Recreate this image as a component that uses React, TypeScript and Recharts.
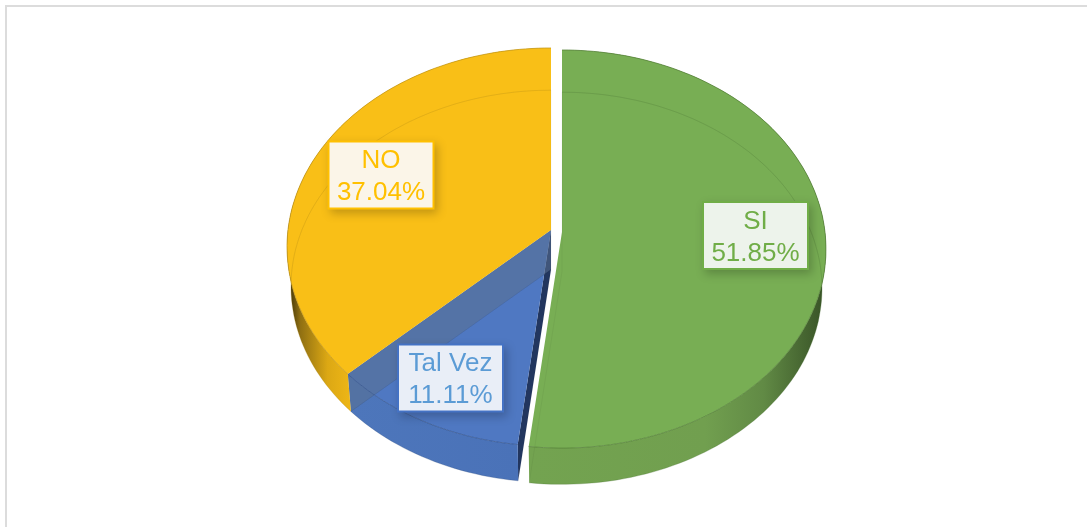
import { PieChart, Pie } from 'recharts';

const categories = ['SI', 'Tal Vez', 'NO'];
const shares = [51.85, 11.11, 37.04];

const TOP_COLORS: Record<string, string> = { SI: '#78ae54', 'Tal Vez': '#4f78c2', NO: '#f9bf17' };
const RIM_COLORS: Record<string, string> = { SI: '#55803a', 'Tal Vez': '#35568f', NO: '#c2951a' };
const TEXT_COLORS: Record<string, string> = { SI: '#70ad47', 'Tal Vez': '#5b9bd5', NO: '#ffc000' };
const BOX_BORDERS: Record<string, string> = { SI: '#70ad47', 'Tal Vez': '#4472c4', NO: '#ffc000' };
const BOX_FILLS: Record<string, string> = { SI: '#edf3eb', 'Tal Vez': '#e9eef7', NO: '#fbf5e8' };
const WALL_STOPS: Record<string, [number, string][]> = {
  SI: [[0, '#73a350'], [0.6, '#719f4f'], [0.8, '#618a45'], [1, '#3a5528']],
  'Tal Vez': [[0, '#4d76bb'], [1, '#4a72b8']],
  NO: [[0, '#4d3d0a'], [0.15, '#8f6f12'], [0.6, '#dca814'], [1, '#efb716']],
};
// label box centres, in page pixels
const LABEL_POS: Record<string, [number, number]> = { SI: [755.5, 235.5], 'Tal Vez': [450.5, 378], NO: [381, 175] };
// pulled out slice
const EXPLODE: Record<string, [number, number]> = { SI: [11, 2], 'Tal Vez': [0, 0], NO: [0, 0] };

const data = categories.map((name, i) => ({ name, value: shares[i] }));

// perspective of the pie plane, front edge gets nearer to the camera
const K = 0.0855;
const SX = 263 / 264;
const SY = 197.6 / 264;
const BASE_SCALE = 0.985;
const BASE_DROP = 39.5;
const RAD = Math.PI / 180;

type Pt = [number, number];

function flat(cx: number, cy: number, r: number, a: number): Pt {
  const dx = r * Math.cos(a * RAD);
  const dy = -r * Math.sin(a * RAD);
  const w = 1 - (K * dy) / r;
  return [cx + (SX * dx) / w, cy + (SY * dy) / w];
}

function lowered(p: Pt, cx: number, cy: number): Pt {
  return [cx + BASE_SCALE * (p[0] - cx), cy + BASE_SCALE * (p[1] - cy) + BASE_DROP];
}

function arc(cx: number, cy: number, r: number, a0: number, a1: number): Pt[] {
  const n = Math.max(2, Math.ceil(Math.abs(a1 - a0) / 1.5));
  const out: Pt[] = [];
  for (let i = 0; i <= n; i++) out.push(flat(cx, cy, r, a0 + ((a1 - a0) * i) / n));
  return out;
}

const toPath = (pts: Pt[], close = true) =>
  'M' + pts.map((p) => `${p[0].toFixed(1)},${p[1].toFixed(1)}`).join('L') + (close ? 'Z' : '');

function Slice3D(props: any) {
  const { cx, cy, outerRadius, startAngle, endAngle } = props;
  const name: string = props.payload?.name ?? props.name;
  const [ox, oy] = EXPLODE[name];
  const x = cx + ox;
  const y = cy + oy;
  const rim = arc(x, y, outerRadius, startAngle, endAngle);
  const baseRim = rim.map((p) => lowered(p, x, y));
  const apex: Pt = [x, y];
  const baseApex = lowered(apex, x, y);
  const gradId = `wall-${name.replace(' ', '')}`;
  const isBlue = name === 'Tal Vez';
  const gradX: Record<string, [number, number]> = { SI: [531, 822], 'Tal Vez': [351, 518], NO: [291, 352] };
  return (
    <g>
      <defs>
        <linearGradient id={gradId} gradientUnits="userSpaceOnUse" x1={gradX[name][0]} y1={0} x2={gradX[name][1]} y2={0}>
          {WALL_STOPS[name].map(([o, c]) => <stop key={o} offset={o} stopColor={c} />)}
        </linearGradient>
      </defs>
      {isBlue && <path d={toPath([apex, rim[0], baseRim[0], baseApex])} fill="#22365f" />}
      <path d={toPath([...rim, ...baseRim.slice().reverse()])} fill={`url(#${gradId})`} />
      <path d={toPath([apex, ...rim])} fill={TOP_COLORS[name]} />
      {/* far edge and cut showing through the translucent top */}
      <path d={toPath([baseApex, ...baseRim])} fill="none" stroke="#000" strokeOpacity={0.045} strokeWidth={1} />
      {isBlue && (
        <path
          d={toPath([apex, rim[rim.length - 1], baseRim[baseRim.length - 1], baseApex])}
          fill="#5a6f8f"
          fillOpacity={0.55}
        />
      )}
      <path d={toPath(rim, false)} fill="none" stroke={RIM_COLORS[name]} strokeWidth={1} strokeOpacity={0.75} />
      <path d={toPath(baseRim, false)} fill="none" stroke={RIM_COLORS[name]} strokeWidth={0.8} strokeOpacity={0.3} />
    </g>
  );
}

function SliceLabel(props: any) {
  const name: string = props.payload?.name ?? props.name;
  const value: number = props.payload?.value ?? props.value;
  const [lx, ly] = LABEL_POS[name];
  const w = 105;
  const h = 67;
  return (
    <g style={{ filter: 'drop-shadow(3px 4px 5px rgba(0,0,0,0.22))' }}>
      <rect
        x={lx - w / 2}
        y={ly - h / 2}
        width={w}
        height={h}
        fill={BOX_FILLS[name]}
        stroke={BOX_BORDERS[name]}
        strokeWidth={2}
      />
      <text
        x={lx}
        textAnchor="middle"
        fill={TEXT_COLORS[name]}
        fontFamily="'Liberation Sans', Arial, sans-serif"
        fontSize={26}
      >
        <tspan x={lx} y={ly - 7}>{name}</tspan>
        <tspan x={lx} y={ly + 25}>{`${value.toFixed(2)}%`}</tspan>
      </text>
    </g>
  );
}

export default function App() {
  return (
    <div style={{ position: 'absolute', left: 0, top: 0, width: 1087, height: 527, background: '#fff', overflow: 'hidden' }}>
      <div
        style={{
          position: 'absolute',
          left: 5,
          top: 5,
          width: 1090,
          height: 530,
          borderLeft: '2px solid #dcdcdc',
          borderTop: '2px solid #dcdcdc',
        }}
      />
      <div style={{ position: 'absolute', left: 0, top: 0 }}>
        <PieChart width={1087} height={527} margin={{ top: 0, right: 0, bottom: 0, left: 0 }}>
          <Pie
            data={data}
            dataKey="value"
            nameKey="name"
            cx={551}
            cy={230}
            innerRadius={0}
            outerRadius={264}
            startAngle={90}
            endAngle={-270}
            stroke="none"
            isAnimationActive={false}
            labelLine={false}
            shape={Slice3D}
            label={SliceLabel}
          />
        </PieChart>
      </div>
    </div>
  );
}
